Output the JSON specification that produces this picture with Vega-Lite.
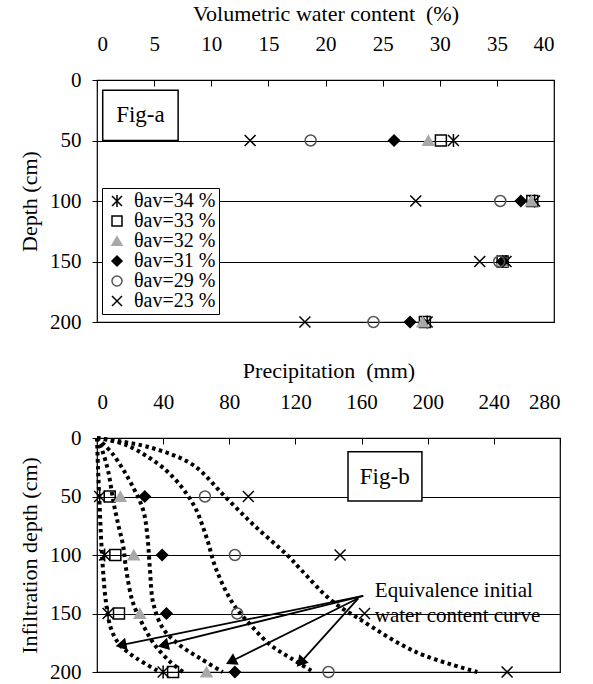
{
  "$schema": "https://vega.github.io/schema/vega-lite/v6.json",
  "background": "white",
  "padding": {"left": 17, "top": 1, "right": 0, "bottom": 0},
  "spacing": 25,
  "config": {
    "font": "Liberation Serif",
    "view": {"stroke": "black", "strokeWidth": 1.2},
    "axis": {
      "labelFont": "Liberation Serif", "titleFont": "Liberation Serif",
      "labelFontSize": 21, "titleFontSize": 22, "titleFontWeight": "normal",
      "labelColor": "black", "titleColor": "black", "domain": false,
      "tickColor": "black", "grid": false
    },
    "legend": {
      "orient": "none", "title": null,
      "labelFont": "Liberation Serif", "labelFontSize": 20, "labelColor": "black",
      "strokeColor": "black", "fillColor": "white", "padding": 3, "rowPadding": 0,
      "symbolSize": 100, "symbolStrokeWidth": 1.5, "labelOffset": 7, "symbolOffset": 2
    }
  },
  "datasets": {
    "fig_a": [
      {"series": "θav=34 %", "depth": 50, "wc": 31.2},
      {"series": "θav=34 %", "depth": 100, "wc": 38.3},
      {"series": "θav=34 %", "depth": 150, "wc": 35.8},
      {"series": "θav=34 %", "depth": 200, "wc": 28.9},
      {"series": "θav=33 %", "depth": 50, "wc": 30.1},
      {"series": "θav=33 %", "depth": 100, "wc": 38.1},
      {"series": "θav=33 %", "depth": 150, "wc": 35.5},
      {"series": "θav=33 %", "depth": 200, "wc": 28.7},
      {"series": "θav=32 %", "depth": 50, "wc": 29.0},
      {"series": "θav=32 %", "depth": 100, "wc": 38.0},
      {"series": "θav=32 %", "depth": 150, "wc": 35.4},
      {"series": "θav=32 %", "depth": 200, "wc": 28.5},
      {"series": "θav=31 %", "depth": 50, "wc": 26.0},
      {"series": "θav=31 %", "depth": 100, "wc": 37.1},
      {"series": "θav=31 %", "depth": 150, "wc": 35.5},
      {"series": "θav=31 %", "depth": 200, "wc": 27.4},
      {"series": "θav=29 %", "depth": 50, "wc": 18.7},
      {"series": "θav=29 %", "depth": 100, "wc": 35.3},
      {"series": "θav=29 %", "depth": 150, "wc": 35.2},
      {"series": "θav=29 %", "depth": 200, "wc": 24.2},
      {"series": "θav=23 %", "depth": 50, "wc": 13.4},
      {"series": "θav=23 %", "depth": 100, "wc": 27.9},
      {"series": "θav=23 %", "depth": 150, "wc": 33.5},
      {"series": "θav=23 %", "depth": 200, "wc": 18.2}
    ],
    "fig_b": [
      {"series": "θav=34 %", "depth": 50, "mm": 1.6},
      {"series": "θav=34 %", "depth": 100, "mm": 4.6},
      {"series": "θav=34 %", "depth": 150, "mm": 6.7},
      {"series": "θav=34 %", "depth": 200, "mm": 40},
      {"series": "θav=33 %", "depth": 50, "mm": 7.7},
      {"series": "θav=33 %", "depth": 100, "mm": 11.1},
      {"series": "θav=33 %", "depth": 150, "mm": 13.3},
      {"series": "θav=33 %", "depth": 200, "mm": 46},
      {"series": "θav=32 %", "depth": 50, "mm": 14.1},
      {"series": "θav=32 %", "depth": 100, "mm": 22.2},
      {"series": "θav=32 %", "depth": 150, "mm": 25.9},
      {"series": "θav=32 %", "depth": 200, "mm": 66.2},
      {"series": "θav=31 %", "depth": 50, "mm": 28.9},
      {"series": "θav=31 %", "depth": 100, "mm": 39.4},
      {"series": "θav=31 %", "depth": 150, "mm": 42},
      {"series": "θav=31 %", "depth": 200, "mm": 83.4},
      {"series": "θav=29 %", "depth": 50, "mm": 65.3},
      {"series": "θav=29 %", "depth": 100, "mm": 83.4},
      {"series": "θav=29 %", "depth": 150, "mm": 84.8},
      {"series": "θav=29 %", "depth": 200, "mm": 140},
      {"series": "θav=23 %", "depth": 50, "mm": 91.5},
      {"series": "θav=23 %", "depth": 100, "mm": 147},
      {"series": "θav=23 %", "depth": 150, "mm": 161.8},
      {"series": "θav=23 %", "depth": 200, "mm": 248}
    ],
    "curves": [
      {"curve": "A", "mm": 0, "cm": 0}, {"curve": "A", "mm": 0.6, "cm": 25}, {"curve": "A", "mm": 1.5, "cm": 55},
      {"curve": "A", "mm": 2.4, "cm": 84}, {"curve": "A", "mm": 3.6, "cm": 112}, {"curve": "A", "mm": 5.5, "cm": 141},
      {"curve": "A", "mm": 8.5, "cm": 163}, {"curve": "A", "mm": 13.9, "cm": 177}, {"curve": "A", "mm": 23.6, "cm": 188},
      {"curve": "A", "mm": 38, "cm": 200},
      {"curve": "B", "mm": 0, "cm": 0}, {"curve": "B", "mm": 3, "cm": 10}, {"curve": "B", "mm": 6.7, "cm": 28},
      {"curve": "B", "mm": 10, "cm": 55}, {"curve": "B", "mm": 13, "cm": 75}, {"curve": "B", "mm": 15.8, "cm": 92},
      {"curve": "B", "mm": 17.6, "cm": 112}, {"curve": "B", "mm": 21.8, "cm": 141}, {"curve": "B", "mm": 29, "cm": 163},
      {"curve": "B", "mm": 35, "cm": 177}, {"curve": "B", "mm": 44, "cm": 191}, {"curve": "B", "mm": 52, "cm": 200},
      {"curve": "C", "mm": 0, "cm": 0}, {"curve": "C", "mm": 9.7, "cm": 14}, {"curve": "C", "mm": 21.8, "cm": 42},
      {"curve": "C", "mm": 28, "cm": 62}, {"curve": "C", "mm": 30.5, "cm": 84}, {"curve": "C", "mm": 32, "cm": 112},
      {"curve": "C", "mm": 34, "cm": 141}, {"curve": "C", "mm": 40, "cm": 163}, {"curve": "C", "mm": 50, "cm": 177},
      {"curve": "C", "mm": 62, "cm": 188}, {"curve": "C", "mm": 76, "cm": 200},
      {"curve": "D", "mm": 0, "cm": 0}, {"curve": "D", "mm": 17.6, "cm": 6}, {"curve": "D", "mm": 42, "cm": 28},
      {"curve": "D", "mm": 58, "cm": 56}, {"curve": "D", "mm": 66, "cm": 84}, {"curve": "D", "mm": 72, "cm": 112},
      {"curve": "D", "mm": 82, "cm": 141}, {"curve": "D", "mm": 93, "cm": 160}, {"curve": "D", "mm": 105, "cm": 177},
      {"curve": "D", "mm": 117, "cm": 188}, {"curve": "D", "mm": 131, "cm": 200},
      {"curve": "E", "mm": 0, "cm": 0}, {"curve": "E", "mm": 32, "cm": 8}, {"curve": "E", "mm": 58, "cm": 23},
      {"curve": "E", "mm": 78, "cm": 51}, {"curve": "E", "mm": 96, "cm": 76}, {"curve": "E", "mm": 115, "cm": 100},
      {"curve": "E", "mm": 123, "cm": 112}, {"curve": "E", "mm": 141, "cm": 138}, {"curve": "E", "mm": 159, "cm": 155},
      {"curve": "E", "mm": 193, "cm": 183}, {"curve": "E", "mm": 230, "cm": 200}
    ],
    "arrows": [
      {"x1": 161, "y1": 135, "x2": 14.5, "y2": 177},
      {"x1": 161, "y1": 135, "x2": 40, "y2": 177},
      {"x1": 158, "y1": 137, "x2": 81, "y2": 191},
      {"x1": 158, "y1": 137, "x2": 123, "y2": 192}
    ]
  },
  "vconcat": [
    {
      "width": 457,
      "height": 242,
      "layer": [
        {
          "data": {"values": [{}]},
          "mark": {"type": "rect", "fill": "white", "stroke": "black", "strokeWidth": 1.5},
          "encoding": {
            "x": {"datum": 0.5, "type": "quantitative", "scale": {"domain": [0, 40], "nice": false},
              "axis": {"orient": "top", "values": [0, 5, 10, 15, 20, 25, 30, 35, 40], "title": "Volumetric water content \u00a0(%)", "tickSize": -6, "labelPadding": 32, "titlePadding": 8}},
            "x2": {"datum": 7.1},
            "y": {"datum": 8.5, "type": "quantitative", "scale": {"domain": [0, 200], "reverse": true, "nice": false},
              "axis": {"values": [0, 50, 100, 150, 200], "title": "Depth (cm)", "grid": true, "gridColor": "black", "gridWidth": 1, "gridOpacity": 1, "tickSize": 5, "labelPadding": 11, "titlePadding": 8}},
            "y2": {"datum": 50}
          }
        },
        {
          "data": {"values": [{}]},
          "mark": {"type": "text", "text": "Fig-a", "fontSize": 23, "font": "Liberation Serif", "color": "black", "align": "center", "baseline": "middle"},
          "encoding": {"x": {"datum": 3.8, "type": "quantitative"}, "y": {"datum": 29, "type": "quantitative"}}
        },
        {
          "data": {"name": "fig_a"},
          "mark": {"type": "point", "size": 120, "strokeWidth": 1.5, "opacity": 1},
          "encoding": {
            "x": {"field": "wc", "type": "quantitative"},
            "y": {"field": "depth", "type": "quantitative"},
            "shape": {"field": "series", "type": "nominal",
              "scale": {"domain": ["θav=34 %", "θav=33 %", "θav=32 %", "θav=31 %", "θav=29 %", "θav=23 %"],
                "range": ["M-1,-1L1,1M-1,1L1,-1M0,-1.2L0,1.2", "square", "triangle-up", "diamond", "circle", "M-1,-1L1,1M-1,1L1,-1"]},
              "legend": {"legendX": 5, "legendY": 108}},
            "fill": {"field": "series", "type": "nominal",
              "scale": {"domain": ["θav=34 %", "θav=33 %", "θav=32 %", "θav=31 %", "θav=29 %", "θav=23 %"],
                "range": ["transparent", "transparent", "#a8a8a8", "black", "transparent", "transparent"]}},
            "stroke": {"field": "series", "type": "nominal",
              "scale": {"domain": ["θav=34 %", "θav=33 %", "θav=32 %", "θav=31 %", "θav=29 %", "θav=23 %"],
                "range": ["black", "black", "#a8a8a8", "black", "#555555", "black"]}}
          }
        }
      ]
    },
    {
      "width": 463,
      "height": 234,
      "layer": [
        {
          "data": {"name": "curves"},
          "mark": {"type": "line", "strokeWidth": 4, "strokeDash": [3.5, 3.5], "color": "black", "interpolate": "catmull-rom"},
          "encoding": {
            "x": {"field": "mm", "type": "quantitative", "scale": {"domain": [0, 280], "nice": false},
              "axis": {"orient": "top", "values": [0, 40, 80, 120, 160, 200, 240, 280], "title": "Precipitation \u00a0(mm)", "tickSize": -6, "labelPadding": 32, "titlePadding": 9}},
            "y": {"field": "cm", "type": "quantitative", "scale": {"domain": [0, 200], "reverse": true, "nice": false},
              "axis": {"values": [0, 50, 100, 150, 200], "title": "Infiltration depth (cm)", "grid": true, "gridColor": "black", "gridWidth": 1, "gridOpacity": 1, "tickSize": 5, "labelPadding": 11, "titlePadding": 8}},
            "detail": {"field": "curve", "type": "nominal"},
            "order": {"field": "cm", "type": "quantitative"}
          }
        },
        {
          "data": {"name": "arrows"},
          "mark": {"type": "rule", "strokeWidth": 1.8, "color": "black"},
          "encoding": {
            "x": {"field": "x1", "type": "quantitative"},
            "y": {"field": "y1", "type": "quantitative"},
            "x2": {"field": "x2"},
            "y2": {"field": "y2"}
          }
        },
        {
          "data": {"name": "arrows"},
          "transform": [{"calculate": "atan2((datum.x2 - datum.x1) * 1.654, -(datum.y2 - datum.y1) * 1.17) * 180 / PI", "as": "ang"}],
          "mark": {"type": "point", "shape": "triangle-up", "filled": true, "color": "black", "size": 160, "opacity": 1},
          "encoding": {
            "x": {"field": "x2", "type": "quantitative"},
            "y": {"field": "y2", "type": "quantitative"},
            "angle": {"field": "ang", "type": "quantitative", "scale": null}
          }
        },
        {
          "data": {"values": [{}]},
          "mark": {"type": "rect", "fill": "white", "stroke": "black", "strokeWidth": 1.5},
          "encoding": {
            "x": {"datum": 151.8, "type": "quantitative"},
            "x2": {"datum": 196.5},
            "y": {"datum": 11.8, "type": "quantitative"},
            "y2": {"datum": 53.8}
          }
        },
        {
          "data": {"values": [{}]},
          "mark": {"type": "text", "text": "Fig-b", "fontSize": 23, "font": "Liberation Serif", "color": "black", "align": "center", "baseline": "middle"},
          "encoding": {"x": {"datum": 174, "type": "quantitative"}, "y": {"datum": 33, "type": "quantitative"}}
        },
        {
          "data": {"values": [{}]},
          "mark": {"type": "text", "text": ["Equivalence initial", "water content curve"], "fontSize": 21, "font": "Liberation Serif", "color": "black", "align": "left", "baseline": "top", "lineHeight": 25},
          "encoding": {"x": {"datum": 168, "type": "quantitative"}, "y": {"datum": 121, "type": "quantitative"}}
        },
        {
          "data": {"name": "fig_b"},
          "mark": {"type": "point", "size": 120, "strokeWidth": 1.5, "opacity": 1},
          "encoding": {
            "x": {"field": "mm", "type": "quantitative"},
            "y": {"field": "depth", "type": "quantitative"},
            "shape": {"field": "series", "type": "nominal",
              "scale": {"domain": ["θav=34 %", "θav=33 %", "θav=32 %", "θav=31 %", "θav=29 %", "θav=23 %"],
                "range": ["M-1,-1L1,1M-1,1L1,-1M0,-1.2L0,1.2", "square", "triangle-up", "diamond", "circle", "M-1,-1L1,1M-1,1L1,-1"]},
              "legend": {"legendX": 331, "legendY": 14}},
            "fill": {"field": "series", "type": "nominal",
              "scale": {"domain": ["θav=34 %", "θav=33 %", "θav=32 %", "θav=31 %", "θav=29 %", "θav=23 %"],
                "range": ["transparent", "transparent", "#a8a8a8", "black", "transparent", "transparent"]}},
            "stroke": {"field": "series", "type": "nominal",
              "scale": {"domain": ["θav=34 %", "θav=33 %", "θav=32 %", "θav=31 %", "θav=29 %", "θav=23 %"],
                "range": ["black", "black", "#a8a8a8", "black", "#555555", "black"]}}
          }
        }
      ]
    }
  ]
}
